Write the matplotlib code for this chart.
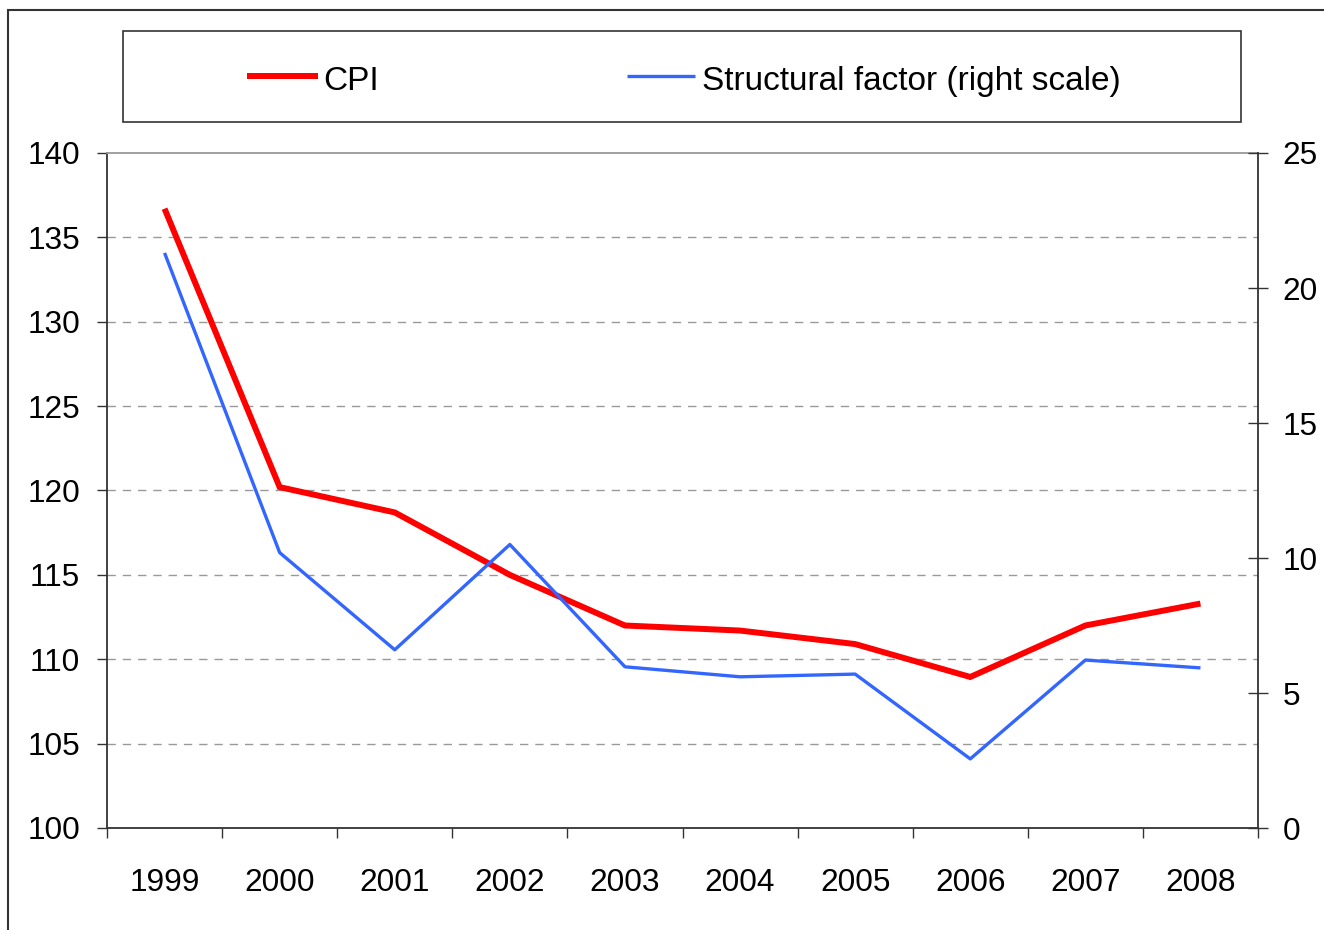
import matplotlib
matplotlib.use("Agg")
import matplotlib.pyplot as plt
from matplotlib.lines import Line2D
from matplotlib.patches import Rectangle
from matplotlib.ticker import FixedLocator, NullFormatter

plt.rcParams['font.family'] = ['Liberation Sans', 'DejaVu Sans']

years = ['1999', '2000', '2001', '2002', '2003', '2004', '2005', '2006', '2007', '2008']
cpi = [136.7, 120.2, 118.7, 115.0, 112.0, 111.7, 110.9, 108.95, 112.0, 113.3]
structural = [21.3, 10.2, 6.6, 10.5, 5.97, 5.6, 5.7, 2.56, 6.22, 5.93]
left_ticks = [100, 105, 110, 115, 120, 125, 130, 135, 140]
right_ticks = [0, 5, 10, 15, 20, 25]

W, H = 1324, 930
fig = plt.figure(figsize=(W / 100, H / 100), dpi=100)

def fx(px):
    return px / W

def fy(py):
    return 1 - py / H

# outer border
fig.add_artist(Rectangle((fx(8), -0.2), 1.5, fy(10) + 0.2, transform=fig.transFigure,
                         fill=False, edgecolor='#333333', linewidth=1.5))

ax = fig.add_axes([fx(107), fy(828), fx(1258) - fx(107), fy(153) - fy(828)])
x = list(range(len(years)))

ax.set_xlim(-0.5, len(years) - 0.5)
ax.set_ylim(100, 140)
ax.yaxis.set_major_locator(FixedLocator(left_ticks))
for v in left_ticks[1:-1]:
    ax.axhline(v, color='#999999', linewidth=1.0, linestyle=(0, (6, 5)), zorder=0.5)

ax.plot(x, cpi, color='#FF0000', linewidth=4.3, solid_capstyle='butt', solid_joinstyle='miter', zorder=2)

ax.xaxis.set_major_locator(FixedLocator([i - 0.5 for i in range(len(years) + 1)]))
ax.xaxis.set_major_formatter(NullFormatter())
ax.xaxis.set_minor_locator(FixedLocator(x))
ax.set_xticklabels(years, minor=True)
ax.tick_params(axis='x', which='major', direction='out', length=7.5, width=1.0, color='#333333')
ax.tick_params(axis='x', which='minor', length=0, pad=28.5, labelsize=22.8)
ax.tick_params(axis='y', direction='out', length=7.5, width=1.0, color='#333333', pad=12, labelsize=22.8)

for s in ['left', 'bottom']:
    ax.spines[s].set_color('#333333')
    ax.spines[s].set_linewidth(1.3)
ax.spines['top'].set_color('#999999')
ax.spines['top'].set_linewidth(1.3)
ax.spines['right'].set_visible(False)

ax2 = ax.twinx()
ax2.set_ylim(0, 25)
ax2.yaxis.set_major_locator(FixedLocator(right_ticks))
ax2.plot(x, structural, color='#3366FF', linewidth=2.4, solid_capstyle='butt', zorder=3)
ax2.tick_params(axis='y', direction='inout', length=15, width=1.0, color='#333333', pad=10, labelsize=22.8)
for s in ['left', 'bottom', 'top']:
    ax2.spines[s].set_visible(False)
ax2.spines['right'].set_color('#333333')
ax2.spines['right'].set_linewidth(1.3)

# legend box
fig.add_artist(Rectangle((fx(123), fy(122)), fx(1241) - fx(123), fy(31) - fy(122),
                         transform=fig.transFigure, fill=False, edgecolor='#333333', linewidth=1.2))
ly = fy(76)
tb = fy(90)
fig.add_artist(Line2D([fx(247), fx(318)], [ly, ly], transform=fig.transFigure,
                      color='#FF0000', linewidth=4.3, solid_capstyle='butt'))
fig.text(fx(323), tb, 'CPI', fontsize=24, va='baseline', ha='left')
fig.add_artist(Line2D([fx(627), fx(695)], [ly, ly], transform=fig.transFigure,
                      color='#3366FF', linewidth=2.4, solid_capstyle='butt'))
fig.text(fx(702), tb, 'Structural factor (right scale)', fontsize=24, va='baseline', ha='left')

fig.savefig('out.png', dpi=100)
